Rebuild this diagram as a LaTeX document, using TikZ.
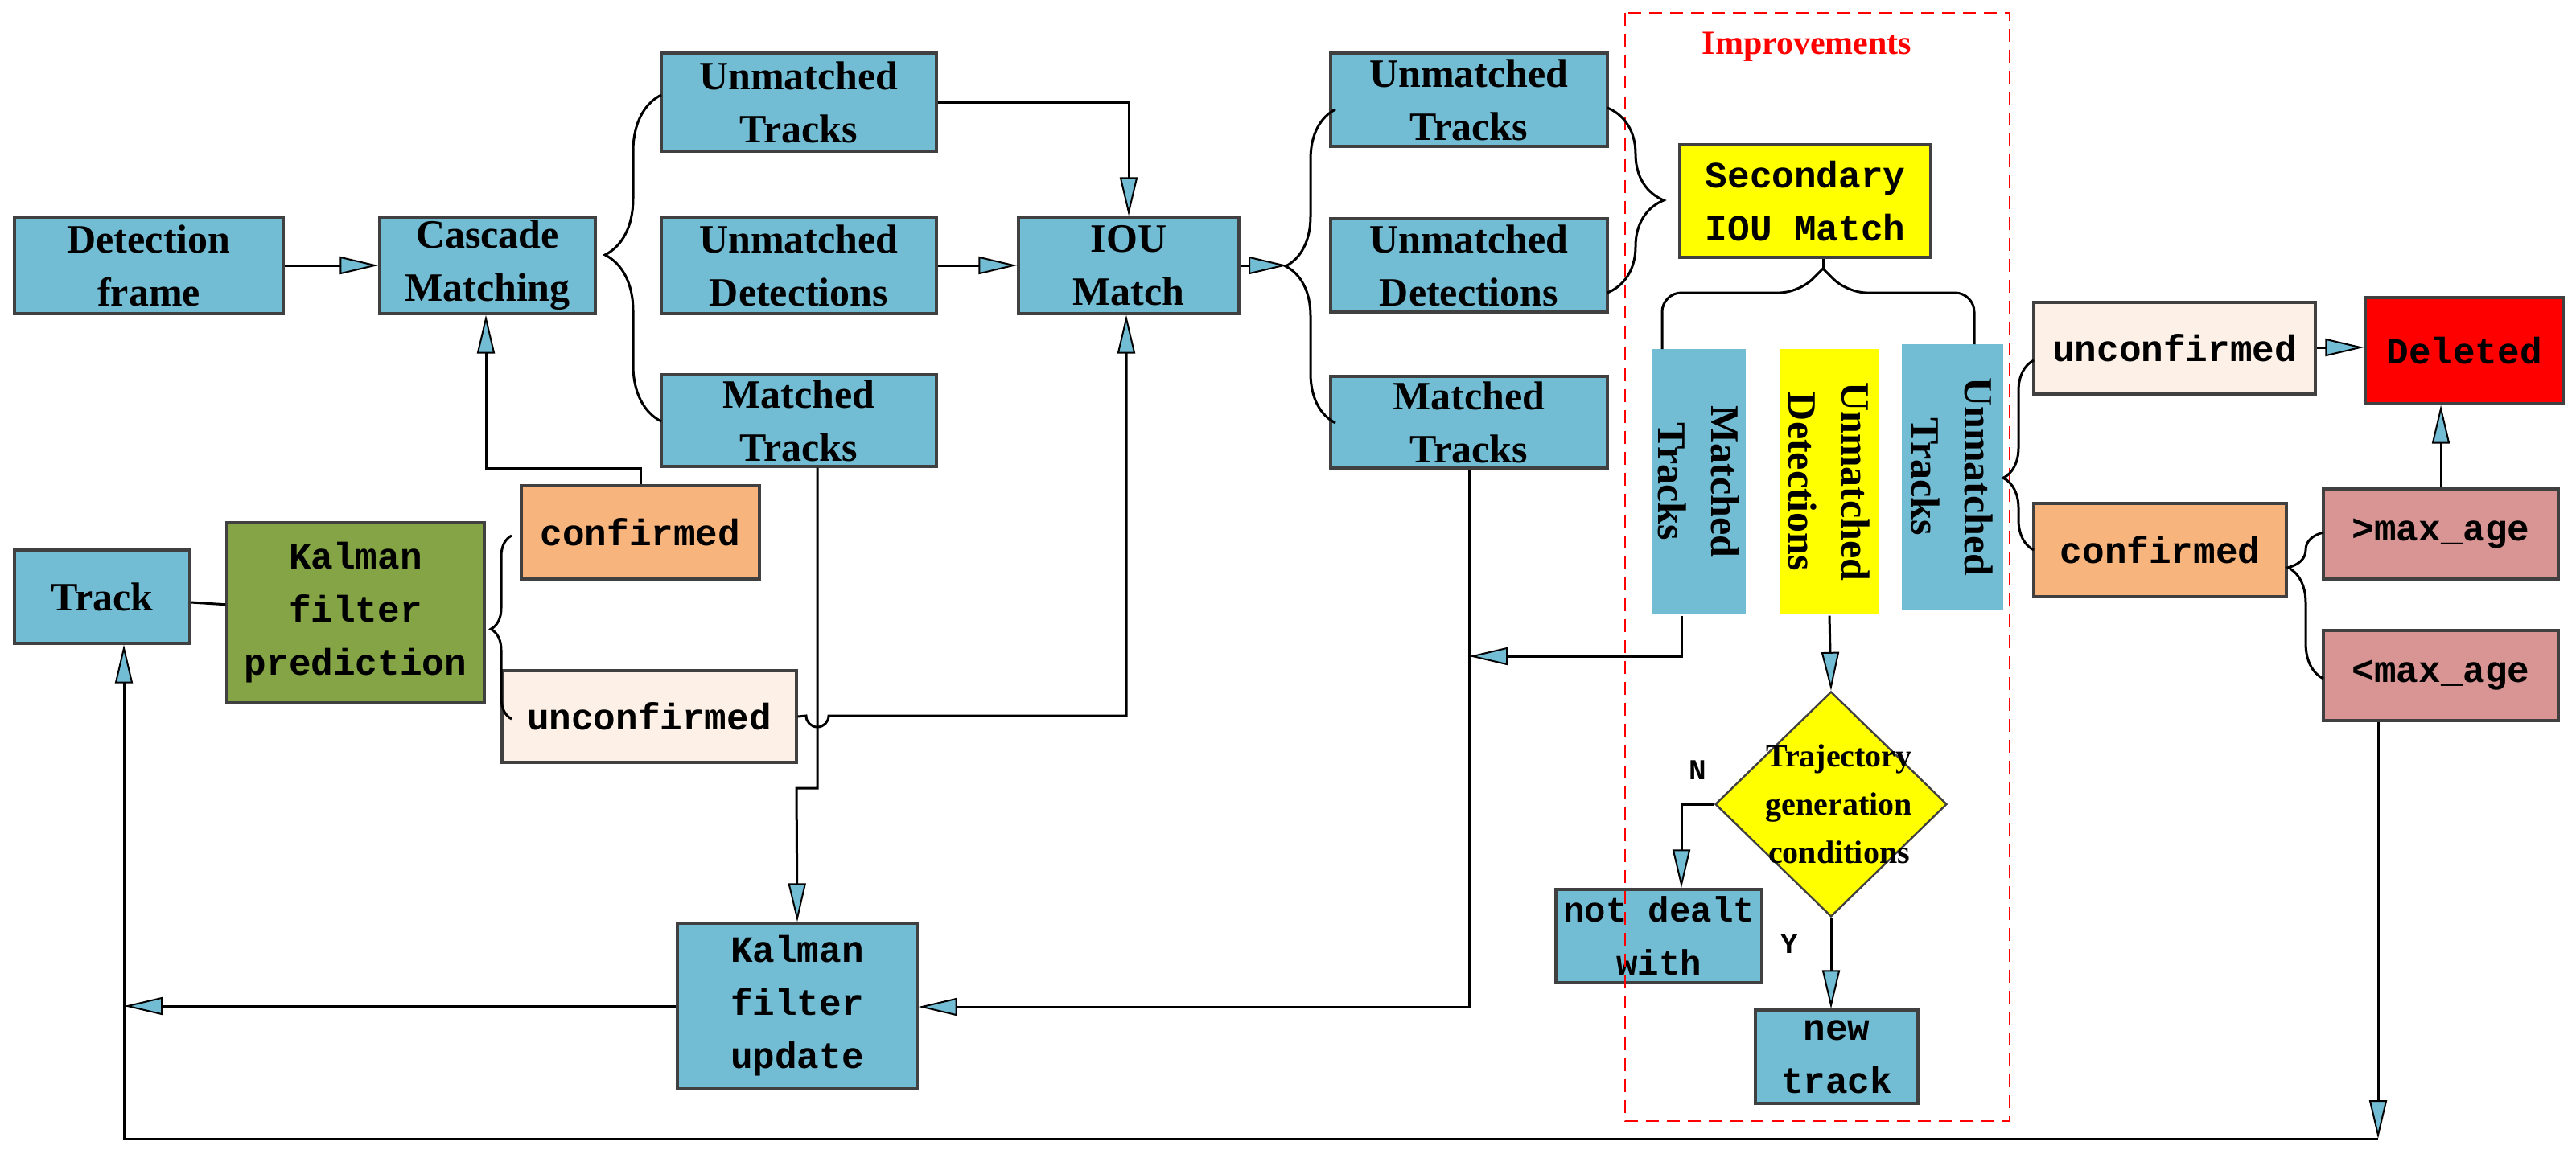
\documentclass[tikz,border=0pt]{standalone}
\usepackage{fontspec}
\setmainfont{Liberation Serif}
\setmonofont{Liberation Mono}
\usetikzlibrary{arrows.meta,shapes.geometric,decorations.pathreplacing,calc}
\definecolor{bx}{HTML}{72BCD4}
\definecolor{grn}{HTML}{85A445}
\definecolor{org}{HTML}{F7B47D}
\definecolor{pch}{HTML}{FDF0E6}
\definecolor{ros}{HTML}{D99594}
\definecolor{yel}{HTML}{FFFF00}
\definecolor{dred}{HTML}{FF0000}
\begin{document}
\begin{tikzpicture}[x=1pt,y=-1pt,
  box/.style={draw=black!75,line width=1.6pt,fill=bx,inner sep=0pt,align=center,
    font=\fontsize{25}{33}\selectfont\bfseries},
  mono/.style={font=\fontsize{23}{33}\selectfont\ttfamily\bfseries},
  ar/.style={line width=1.5pt,-{Triangle[length=24pt,width=11pt,fill=bx,line width=1pt]}},
  ln/.style={line width=1.5pt},
  br/.style={line width=1.5pt,decorate,decoration={brace,amplitude=#1}},
]
\useasboundingbox (0,0) rectangle (1601,717.5);
% nodes
\node[box,minimum width=167,minimum height=60] (det) at (92.5,165) {Detection\\frame};
\node[box,minimum width=134,minimum height=60] (cas) at (303,165) {Cascade\\Matching};
\node[box,minimum width=171,minimum height=61] (ut1) at (496.5,63.5) {Unmatched\\Tracks};
\node[box,minimum width=171,minimum height=60] (ud1) at (496.5,165) {Unmatched\\Detections};
\node[box,minimum width=171,minimum height=57] (mt1) at (496.5,261.5) {Matched\\Tracks};
\node[box,minimum width=137,minimum height=60] (iou) at (701.5,165) {IOU\\Match};
\node[box,minimum width=172,minimum height=58] (ut2) at (913,62) {Unmatched\\Tracks};
\node[box,minimum width=172,minimum height=58] (ud2) at (913,165) {Unmatched\\Detections};
\node[box,minimum width=172,minimum height=57] (mt2) at (913,262.5) {Matched\\Tracks};
\node[box,mono,fill=yel,minimum width=156,minimum height=70] (sec) at (1122,125) {Secondary\\IOU Match};
\node[box,draw=none,minimum width=165,minimum height=58,rotate=-90] (vmt) at (1056,299.5) {Matched\\Tracks};
\node[box,draw=none,fill=yel,minimum width=165,minimum height=62,rotate=-90] (vud) at (1137,299.5) {Unmatched\\Detections};
\node[box,draw=none,minimum width=165,minimum height=63,rotate=-90] (vut) at (1213.5,296.5) {Unmatched\\Tracks};
\node[diamond,draw=black!75,line width=1.2pt,fill=yel,minimum width=144,minimum height=140,inner sep=0pt] (dia) at (1138,500) {};
\node[align=center,font=\fontsize{20}{30}\selectfont\bfseries] (dtx) at (1143,500) {Trajectory\\generation\\conditions};
\node[box,mono,font=\fontsize{22}{33}\selectfont\ttfamily\bfseries,minimum width=128,minimum height=58] (ndw) at (1031,582) {not dealt\\with};
\node[box,mono,minimum width=101,minimum height=58] (new) at (1141.5,657) {new\\track};
\node[box,mono,fill=pch,minimum width=175,minimum height=57] (unc2) at (1351.5,216.5) {unconfirmed};
\node[box,mono,fill=dred,minimum width=123,minimum height=66] (del) at (1531.5,218) {Deleted};
\node[box,mono,fill=org,minimum width=157,minimum height=58] (con2) at (1342.5,342) {confirmed};
\node[box,mono,fill=ros,minimum width=146,minimum height=56] (gt) at (1517,332) {>max\_age};
\node[box,mono,fill=ros,minimum width=146,minimum height=56] (lt) at (1517,420) {<max\_age};
\node[box,minimum width=109,minimum height=58] (trk) at (63.5,371) {Track};
\node[box,mono,fill=grn,minimum width=160,minimum height=112] (kfp) at (221,381) {Kalman\\filter\\prediction};
\node[box,mono,fill=org,minimum width=148,minimum height=58] (con1) at (398,331) {confirmed};
\node[box,mono,fill=pch,minimum width=183,minimum height=57] (unc1) at (403.5,445.5) {unconfirmed};
\node[box,mono,minimum width=149,minimum height=103] (kfu) at (495.5,625.5) {Kalman\\filter\\update};
% improvements frame
\draw[dred,line width=1.2pt,dash pattern=on 8pt off 5pt] (1010,8) rectangle (1249,697);
\node[text=dred,font=\fontsize{21}{24}\selectfont\bfseries] (imp) at (1123,29) {Improvements};
\node[font=\fontsize{18}{20}\selectfont\ttfamily\bfseries] (nl) at (1055,479) {N};
\node[font=\fontsize{18}{20}\selectfont\ttfamily\bfseries] (yl) at (1112,587) {Y};
% connectors
\draw[ar] (det) -- (cas);
\draw[br=35pt,decoration={aspect=0.51}] (411,262) -- (411,59);
\draw[ar] (ut1.east) -| (iou.north);
\draw[ar] (ud1) -- (iou);
\coordinate (it) at (800,165);
\draw[ar] (iou.east) -- (it);
\draw[br=31pt,decoration={aspect=0.5}] (830,263) -- (830,68);
\draw[br=35pt,decoration={aspect=0.5}] (999,67) -- (999,182);
\coordinate (st) at (1133,167);
\draw[ln,rounded corners=12pt] (1033,217) -- (1033,182) -- (1118,182) -- (st);
\draw[ln,rounded corners=12pt] (1227,214) -- (1227,182) -- (1148,182) -- (st);
\draw[ln] (st) -- (st|-sec.south);
\draw[br=19pt,decoration={aspect=0.38}] (1264,342) -- (1264,224);
\draw[ar] (unc2.east|-0,216) -- (del.west|-0,216);
\draw[br=22pt,decoration={aspect=0.76}] (1444,422) -- (1444,331);
\draw[ar] (gt.north) -- (del.south-|gt.north);
\coordinate (b1) at (1478,708);
\coordinate (b2) at (77,708);
\draw[ar] (lt.south-|b1) -- (b1);
\draw[ar] (b1) -- (b2) -- (trk.south-|b2);
\coordinate (m1) at (913,408);
\draw[ar] (vmt.east-|1045,0) -- (1045,408) -- (m1);
\draw[ar] (mt2.south-|m1) -- (913,626) -- (kfu.east|-0,626);
\draw[ar] (kfu.west) -- (kfu.west-|b2);
\coordinate (j1) at (508,490);
\draw[ar] (mt1.south-|j1) -- (j1) -- (495,490) -- (kfu.north);
\coordinate (c1) at (302,291);
\draw[ar] (con1.north) |- (c1) -- (cas.south-|c1);
\draw[br=13pt,decoration={aspect=0.49}] (318,447) -- (318,333);
\draw[ln] (kfp) -- (trk);
\draw[ar] (unc1.east) -- (501,445) arc (180:0:7) -- (700,445) -- (iou.south-|700,0);
\draw[ar] (vud.east) -- (dia.north);
\draw[ar] (dia.west) -- (1045,500) -- (ndw.north-|1045,0);
\draw[ar] (dia.south) -- (new.north-|dia.south);
\end{tikzpicture}
\end{document}
